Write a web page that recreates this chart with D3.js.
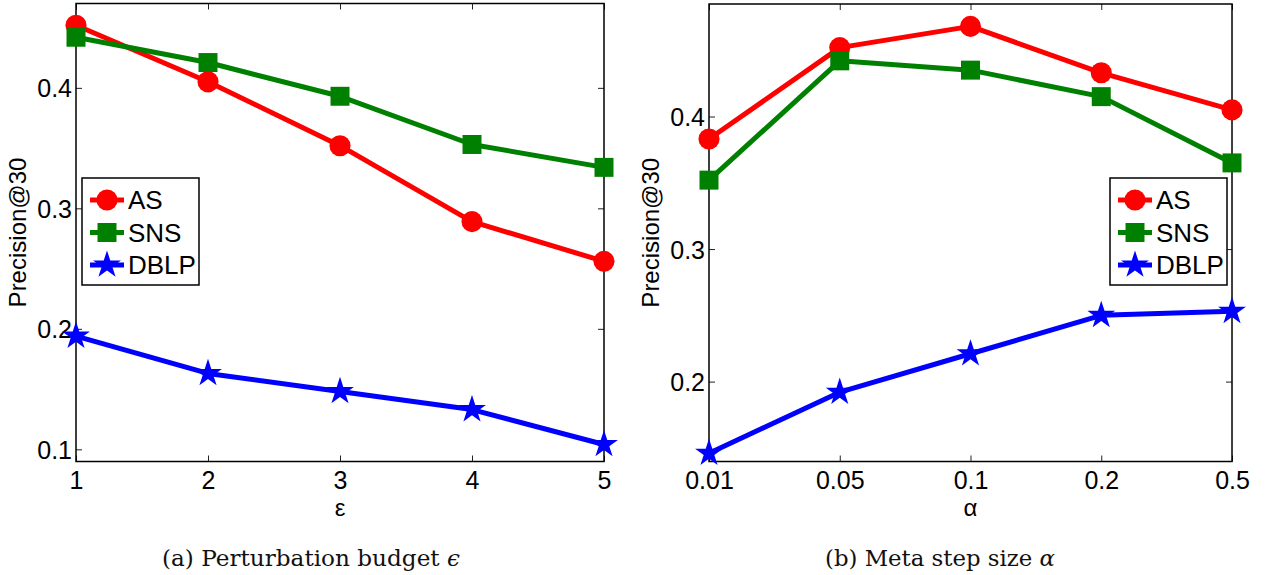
<!DOCTYPE html>
<html><head><meta charset="utf-8">
<script src="https://cdn.jsdelivr.net/npm/d3@7/dist/d3.min.js"></script>
<style>body{margin:0;background:#fff}svg{display:block}</style>
</head><body>
<svg id="c" width="1265" height="575"></svg>
<script>
// ---- data ----
const seriesNames = ["AS", "SNS", "DBLP"];
const seriesColors = ["#ff0000", "#008000", "#0000ff"];

const epsCategories = ["1", "2", "3", "4", "5"];
const epsAS   = [0.452, 0.405, 0.352, 0.289, 0.256];
const epsSNS  = [0.442, 0.421, 0.393, 0.353, 0.334];
const epsDBLP = [0.194, 0.163, 0.148, 0.133, 0.104];
const epsYTicks = [0.1, 0.2, 0.3, 0.4];

const alphaCategories = ["0.01", "0.05", "0.1", "0.2", "0.5"];
const alphaAS   = [0.383, 0.452, 0.468, 0.433, 0.405];
const alphaSNS  = [0.352, 0.442, 0.435, 0.415, 0.365];
const alphaDBLP = [0.146, 0.192, 0.221, 0.250, 0.253];
const alphaYTicks = [0.2, 0.3, 0.4];

const svg = d3.select("#c");
const font = "'Liberation Sans', Arial, Helvetica, sans-serif";
const serif = "'DejaVu Serif', 'Liberation Serif', serif";

function markerPath(i) {
  const types = [d3.symbolCircle, d3.symbolSquare, d3.symbolStar];
  const sizes = [350, 360, 240];
  return d3.symbol().type(types[i]).size(sizes[i])();
}

function panel(cfg) {
  const {x0, x1, y0, y1, cats, yDomain, yTicks, data, xLabel, caption, capX, capW, yLabelX, legend} = cfg;
  const g = svg.append("g");
  const x = d3.scalePoint().domain(cats).range([x0, x1]);
  const y = d3.scaleLinear().domain(yDomain).range([y1, y0]);
  const tl = 6;

  const bottom = g.append("g").attr("transform", `translate(0,${y1})`)
    .call(d3.axisBottom(x).tickSizeInner(-tl).tickSizeOuter(0).tickPadding(10));
  const top = g.append("g").attr("transform", `translate(0,${y0})`)
    .call(d3.axisTop(x).tickSizeInner(-tl).tickSizeOuter(0).tickFormat(""));
  const left = g.append("g").attr("transform", `translate(${x0},0)`)
    .call(d3.axisLeft(y).tickValues(yTicks).tickFormat(d3.format(".1f")).tickSizeInner(-tl).tickSizeOuter(0).tickPadding(4));
  const right = g.append("g").attr("transform", `translate(${x1},0)`)
    .call(d3.axisRight(y).tickValues(yTicks).tickSizeInner(-tl).tickSizeOuter(0).tickFormat(""));
  [bottom, top, left, right].forEach(a => {
    a.select(".domain").remove();
    a.selectAll(".tick line").attr("stroke", "#222").attr("stroke-width", 1);
    a.selectAll("text").attr("font-family", font).attr("font-size", 25).attr("fill", "#000");
  });
  bottom.selectAll("text").attr("dy", "0.71em");
  left.selectAll("text").attr("dy", "0.36em");

  g.append("rect").attr("x", x0).attr("y", y0).attr("width", x1 - x0).attr("height", y1 - y0)
    .attr("fill", "none").attr("stroke", "#000").attr("stroke-width", 1.5);

  const line = d3.line().x((d, i) => x(cats[i])).y(d => y(d));
  data.forEach((vals, s) => {
    g.append("path").datum(vals).attr("d", line).attr("fill", "none")
      .attr("stroke", seriesColors[s]).attr("stroke-width", 5).attr("stroke-linejoin", "round");
  });
  data.forEach((vals, s) => {
    g.selectAll(null).data(vals).join("path")
      .attr("transform", (d, i) => `translate(${x(cats[i])},${y(d)})`)
      .attr("d", markerPath(s)).attr("fill", seriesColors[s]);
  });

  // legend
  const lg = g.append("g").attr("transform", `translate(${legend[0]},${legend[1]})`);
  lg.append("rect").attr("width", 117).attr("height", 107).attr("fill", "#fff")
    .attr("stroke", "#000").attr("stroke-width", 1.5);
  seriesNames.forEach((n, s) => {
    const yy = 22 + s * 32.5;
    lg.append("line").attr("x1", 8).attr("x2", 42).attr("y1", yy).attr("y2", yy)
      .attr("stroke", seriesColors[s]).attr("stroke-width", 5);
    lg.append("path").attr("transform", `translate(25,${yy})`).attr("d", markerPath(s)).attr("fill", seriesColors[s]);
    lg.append("text").attr("x", 46).attr("y", yy).attr("dy", "0.36em").text(n)
      .attr("font-family", font).attr("font-size", 26).attr("fill", "#000");
  });

  // axis labels
  g.append("text").attr("x", (x0 + x1) / 2).attr("y", 516).attr("text-anchor", "middle")
    .attr("font-family", font).attr("font-size", 24).text(xLabel);
  g.append("text").attr("transform", `translate(${yLabelX},${(y0 + y1) / 2}) rotate(-90)`)
    .attr("text-anchor", "middle").attr("font-family", font).attr("font-size", 24).text("Precision@30");

  // caption
  const cap = g.append("text").attr("x", capX).attr("y", 566).attr("text-anchor", "start")
    .attr("font-family", serif).attr("font-size", 23).attr("fill", "#111")
    .attr("textLength", capW).attr("lengthAdjust", "spacingAndGlyphs");
  cap.append("tspan").text(caption[0]);
  cap.append("tspan").attr("font-style", "italic").text(caption[1]);
}

panel({x0: 76, x1: 604, y0: 3.5, y1: 461.5, cats: epsCategories, yDomain: [0.0899, 0.4700],
  yTicks: epsYTicks, data: [epsAS, epsSNS, epsDBLP], xLabel: "\u03B5",
  caption: ["(a) Perturbation budget ", "\u03F5"], capX: 162, capW: 298, yLabelX: 26, legend: [82, 178]});
panel({x0: 709, x1: 1232, y0: 4, y1: 461.5, cats: alphaCategories, yDomain: [0.1397, 0.4849],
  yTicks: alphaYTicks, data: [alphaAS, alphaSNS, alphaDBLP], xLabel: "\u03B1",
  caption: ["(b) Meta step size ", "\u03B1"], capX: 825, capW: 230, yLabelX: 659, legend: [1110, 178]});
</script>
</body></html>
